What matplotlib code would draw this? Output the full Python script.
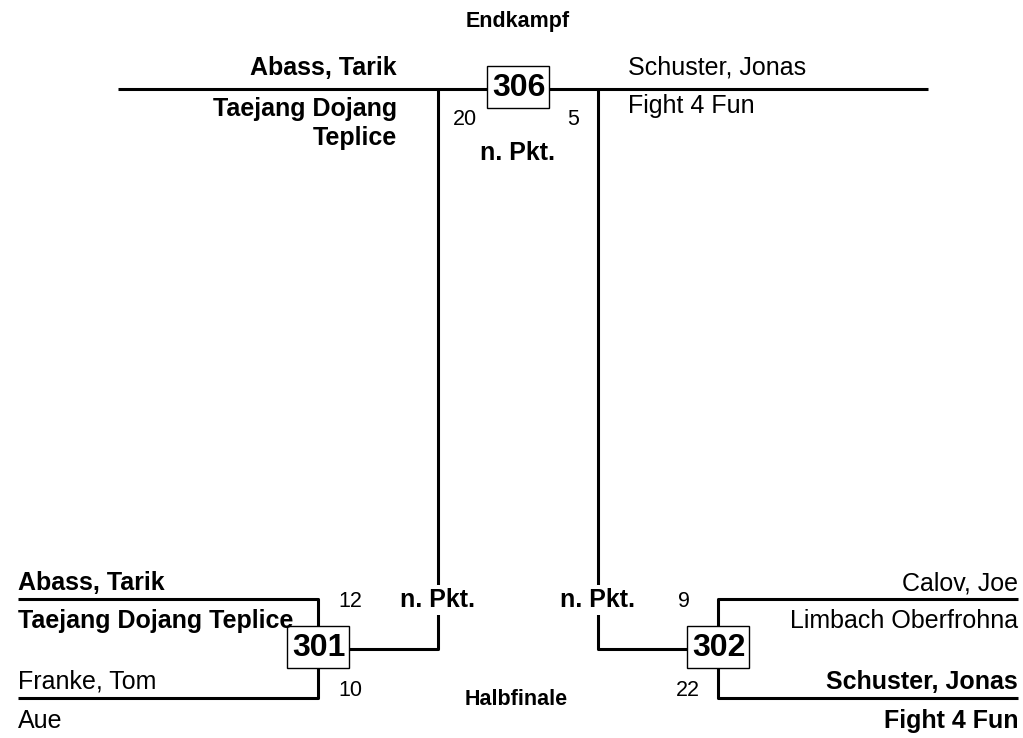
import matplotlib
matplotlib.use("Agg")
import matplotlib.pyplot as plt
from matplotlib.patches import Rectangle

plt.rcParams['font.family'] = ['Liberation Sans', 'DejaVu Sans']

# bracket data
rounds = ["Halbfinale", "Endkampf"]
match_ids = [301, 302, 306]
red_names = ["Abass, Tarik", "Calov, Joe", "Abass, Tarik"]
red_clubs = ["Taejang Dojang Teplice", "Limbach Oberfrohna", "Taejang Dojang\nTeplice"]
blue_names = ["Franke, Tom", "Schuster, Jonas", "Schuster, Jonas"]
blue_clubs = ["Aue", "Fight 4 Fun", "Fight 4 Fun"]
red_scores = [12, 9, 20]
blue_scores = [10, 22, 5]
win_by = ["n. Pkt.", "n. Pkt.", "n. Pkt."]
red_won = [True, False, True]

LW = 2.2
BIG = 18
ROUND = 15.5
SCORE = 15.5


def line(ax, xs, ys):
    ax.plot(xs, ys, color='black', lw=LW, solid_capstyle='butt', zorder=1)


def box(ax, x, y, num):
    ax.add_patch(Rectangle((x - 31, y - 21), 62, 42, facecolor='white',
                           edgecolor='black', lw=1.0, zorder=3))
    ax.text(x + 1, y + 1, str(num), ha='center', va='center', fontsize=23,
            fontweight='bold', zorder=4)


def wt(won):
    return 'bold' if won else 'normal'


fig = plt.figure(figsize=(10.23, 7.38), dpi=100)
ax = fig.add_axes([0, 0, 1, 1])
ax.set_xlim(0, 1023)
ax.set_ylim(738, 0)
ax.axis('off')

# ---- semi final left (301) ----
i = 0
line(ax, [18, 318, 318, 18], [599, 599, 698, 698])
line(ax, [318, 438, 438], [649, 649, 89])
box(ax, 318, 647, match_ids[i])
ax.text(18, 590, red_names[i], fontsize=BIG, fontweight=wt(red_won[i]), va='baseline')
ax.text(18, 628, red_clubs[i], fontsize=BIG, fontweight=wt(red_won[i]), va='baseline')
ax.text(18, 689, blue_names[i], fontsize=BIG, fontweight=wt(not red_won[i]), va='baseline')
ax.text(18, 728, blue_clubs[i], fontsize=BIG, fontweight=wt(not red_won[i]), va='baseline')
ax.text(338, 607, str(red_scores[i]), fontsize=SCORE, va='baseline')
ax.text(338, 696, str(blue_scores[i]), fontsize=SCORE, va='baseline')
ax.text(437, 607, win_by[i], fontsize=BIG, fontweight='bold', ha='center', va='baseline',
        zorder=2, bbox=dict(facecolor='white', edgecolor='none', pad=2))

# ---- semi final right (302) ----
i = 1
line(ax, [1018, 718, 718, 1018], [599, 599, 698, 698])
line(ax, [718, 598, 598], [649, 649, 89])
box(ax, 718, 647, match_ids[i])
ax.text(1018, 590, red_names[i], fontsize=BIG, fontweight=wt(red_won[i]), ha='right', va='baseline')
ax.text(1018, 628, red_clubs[i], fontsize=BIG, fontweight=wt(red_won[i]), ha='right', va='baseline')
ax.text(1018, 689, blue_names[i], fontsize=BIG, fontweight=wt(not red_won[i]), ha='right', va='baseline')
ax.text(1018, 728, blue_clubs[i], fontsize=BIG, fontweight=wt(not red_won[i]), ha='right', va='baseline')
ax.text(678, 607, str(red_scores[i]), fontsize=SCORE, va='baseline')
ax.text(676, 696, str(blue_scores[i]), fontsize=SCORE, va='baseline')
ax.text(598, 607, win_by[i], fontsize=BIG, fontweight='bold', ha='center', va='baseline',
        zorder=2, bbox=dict(facecolor='white', edgecolor='none', pad=2))

ax.text(516, 705, rounds[0], fontsize=ROUND, fontweight='bold', ha='center', va='baseline')

# ---- final (306) ----
i = 2
line(ax, [118, 928], [89, 89])
box(ax, 518, 87, match_ids[i])
ax.text(397, 75, red_names[i], fontsize=BIG, fontweight=wt(red_won[i]), ha='right', va='baseline')
ax.text(397, 145, red_clubs[i], fontsize=BIG, fontweight=wt(red_won[i]), ha='right', va='baseline',
        linespacing=1.25)
ax.text(628, 75, blue_names[i], fontsize=BIG, fontweight=wt(not red_won[i]), va='baseline')
ax.text(628, 113, blue_clubs[i], fontsize=BIG, fontweight=wt(not red_won[i]), va='baseline')
ax.text(453, 125, str(red_scores[i]), fontsize=SCORE, va='baseline')
ax.text(579, 125, str(blue_scores[i]), fontsize=SCORE, ha='right', va='baseline')
ax.text(518, 160, win_by[i], fontsize=BIG, fontweight='bold', ha='center', va='baseline')

ax.text(518, 27, rounds[1], fontsize=ROUND, fontweight='bold', ha='center', va='baseline')

fig.savefig("out.png", dpi=100)
